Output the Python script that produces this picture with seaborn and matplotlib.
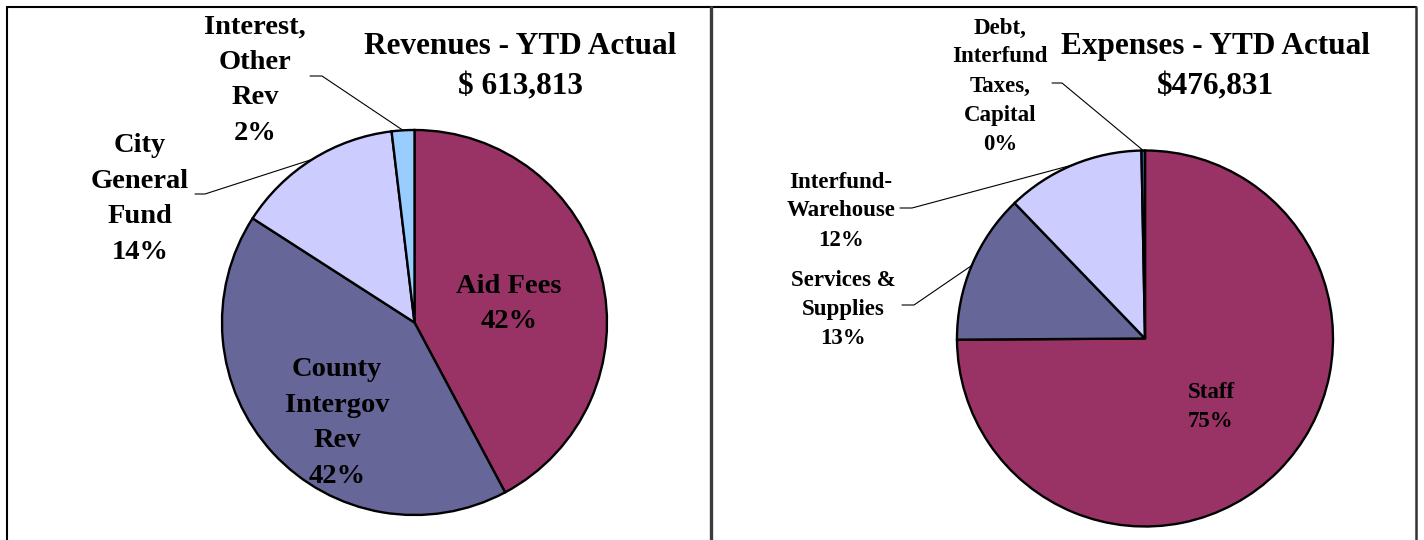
import numpy as np
import matplotlib
matplotlib.use("Agg")
import matplotlib.pyplot as plt
import seaborn as sns

# Revenue / expense breakdowns (percent of YTD actual)
rev_labels = ["Aid Fees", "County\nIntergov\nRev", "City\nGeneral\nFund", "Interest,\nOther\nRev"]
rev_values = [42.2, 41.9, 14.0, 1.9]
rev_pct = ["42%", "42%", "14%", "2%"]
rev_colors = ["#993366", "#666699", "#CCCCFF", "#99CCFF"]

exp_labels = ["Staff", "Services &\nSupplies", "Interfund-\nWarehouse", "Debt,\nInterfund\nTaxes,\nCapital"]
exp_values = [74.9, 12.9, 11.9, 0.3]
exp_pct = ["75%", "13%", "12%", "0%"]
exp_colors = ["#993366", "#666699", "#CCCCFF", "#336699"]

rev_title = "Revenues - YTD Actual\n$ 613,813"
exp_title = "Expenses - YTD Actual\n$476,831"

sns.set_theme(style="white")
plt.rcParams['font.family'] = ['Liberation Serif', 'DejaVu Serif']

W, H = 1424, 540
fig = plt.figure(figsize=(W / 100, H / 100), dpi=100)
ax = fig.add_axes([0, 0, 1, 1])

# pixel-like coordinates, y pointing down
def draw_pie(values, colors, center, radius):
    wedges, _ = ax.pie(values, colors=sns.color_palette(colors), center=center,
                       radius=radius, startangle=-90, counterclock=True,
                       wedgeprops=dict(edgecolor="black", linewidth=1.7),
                       frame=True)
    return wedges

def edge_point(w):
    mid = np.deg2rad((w.theta1 + w.theta2) / 2)
    cx, cy = w.center
    return cx + w.r * np.cos(mid), cy + w.r * np.sin(mid)

rev_c, rev_r = (414.5, 322.5), 192.5
exp_c, exp_r = (1145, 338.5), 188

rw = draw_pie(rev_values, rev_colors, rev_c, rev_r)
ew = draw_pie(exp_values, exp_colors, exp_c, exp_r)

ax.set_xlim(0, W)
ax.set_ylim(H, 0)
ax.set_aspect('auto')
ax.axis('off')

bold = dict(fontweight='bold', ha='center', va='center', color='black')

# titles
ax.text(520, 67, rev_title, fontsize=22.5, linespacing=1.53, **bold)
ax.text(1215, 67, exp_title, fontsize=22.5, linespacing=1.53, **bold)

# revenue labels: (x, y) of label block, leader stub start (or None)
rev_pos = [(509, 304), (337, 423), (140, 199), (255, 80)]
rev_stub = [None, None, (195, 205, 194), (310, 322, 76)]
for i, w in enumerate(rw):
    x, y = rev_pos[i]
    ax.text(x, y, f"{rev_labels[i]}\n{rev_pct[i]}", fontsize=20.5, linespacing=1.55, **bold)
    if rev_stub[i] is not None:
        x0, x1, ys = rev_stub[i]
        ex, ey = edge_point(w)
        ax.plot([x0, x1, ex], [ys, ys, ey], color='black', lw=0.8)

exp_pos = [(1211, 407), (843, 309), (841, 211), (1000, 86)]
exp_stub = [None, (902, 914, 305), (900, 912, 208), (1052, 1062, 83)]
for i, w in enumerate(ew):
    x, y = exp_pos[i]
    ax.text(x, y, f"{exp_labels[i]}\n{exp_pct[i]}", fontsize=16.5, linespacing=1.5, **bold)
    if exp_stub[i] is not None:
        x0, x1, ys = exp_stub[i]
        ex, ey = edge_point(w)
        ax.plot([x0, x1, ex], [ys, ys, ey], color='black', lw=0.8)

# panel frame
ax.plot([6.5, 1416], [6.5, 6.5], color='black', lw=1.5)
ax.plot([6.5, 6.5], [6.5, H], color='black', lw=1.5)
ax.plot([1416, 1416], [6.5, H], color='#333333', lw=1.8)
ax.plot([711, 711], [6.5, H], color='#3c3c3c', lw=2.4)

fig.savefig("out.png", dpi=100, facecolor='white')
